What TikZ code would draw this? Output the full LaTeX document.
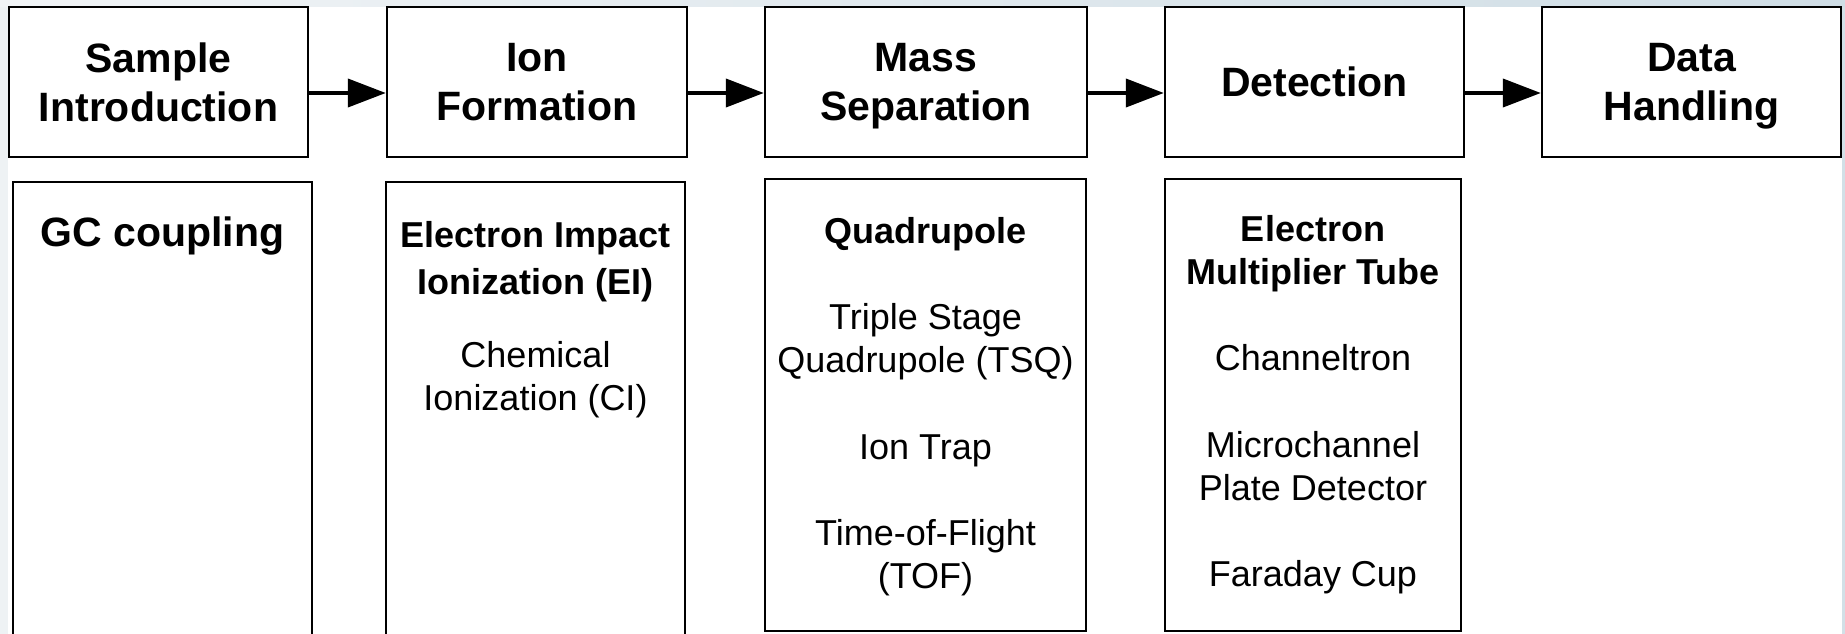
\documentclass[tikz,border=0pt]{standalone}
\usepackage{fontspec}
\setmainfont{Liberation Sans}
\usetikzlibrary{arrows.meta,positioning}

\definecolor{slidepale}{RGB}{241,244,246}
\definecolor{slideblue}{RGB}{207,221,229}
\definecolor{slideleft}{RGB}{238,242,244}
\definecolor{slideright}{RGB}{210,224,231}

\begin{document}
\begin{tikzpicture}[x=1pt,y=-1pt,
    stage/.style={draw, line width=2.4pt, minimum height=150pt, inner sep=0pt,
      text depth=0pt, align=center, font=\fontsize{41}{49.5}\selectfont\bfseries},
    detail/.style={draw, line width=2pt, inner sep=0pt},
    detailtext/.style={anchor=north, inner sep=0pt, align=center,
      font=\fontsize{36}{43.2}\selectfont},
    flow/.style={line width=4pt, -{Triangle[length=38pt,width=28pt]}}]
  \useasboundingbox (0,0) rectangle (1845,634);
  % slide background
  \fill[white] (0,0) rectangle (1845,634);
  \shade[left color=slidepale, right color=slideblue] (0,0) rectangle (1845,7);
  \fill[slideleft] (0,7) rectangle (8,634);
  \fill[slideright] (1842,7) rectangle (1845,634);

  % stages
  \node[stage, minimum width=299pt] (b1) at (158.5,82) {Sample\\Introduction};
  \node[stage, minimum width=300pt] (b2) at (537,82) {Ion\\Formation};
  \node[stage, minimum width=322pt] (b3) at (926,82) {Mass\\Separation};
  \node[stage, minimum width=299pt] (b4) at (1314.5,82) {Detection};
  \node[stage, minimum width=299pt] (b5) at (1691.5,82) {Data\\Handling};

  \foreach \a/\b in {b1/b2,b2/b3,b3/b4,b4/b5}
    \draw[flow] ([yshift=-11pt]\a.east) -- ([yshift=-11pt]\b.west);

  % techniques under each stage
  \node[detail, minimum width=299pt, minimum height=518pt] (c1) at (162.5,441) {};
  \node[detail, minimum width=299pt, minimum height=518pt] (c2) at (535.5,441) {};
  \node[detail, minimum width=321pt, minimum height=452pt] (c3) at (925.5,405) {};
  \node[detail, minimum width=296pt, minimum height=452pt] (c4) at (1313,405) {};

  \node[detailtext, below=36pt of c1.north, font=\fontsize{41}{49.2}\selectfont\bfseries] (c1t)
    {GC coupling};
  \node[detailtext, below=40pt of c2.north] (c2t)
    {\textbf{Electron Impact}\\[4pt]\textbf{Ionization (EI)}\\[30pt]
     Chemical\\Ionization (CI)};
  \node[detailtext, below=39pt of c3.north] (c3t)
    {\textbf{Quadrupole}\\[43.2pt]
     Triple Stage\\Quadrupole (TSQ)\\[43.2pt]
     Ion Trap\\[43.2pt]
     Time-of-Flight\\(TOF)};
  \node[detailtext, below=37pt of c4.north] (c4t)
    {\textbf{Electron}\\\textbf{Multiplier Tube}\\[43.2pt]
     Channeltron\\[43.2pt]
     Microchannel\\Plate Detector\\[43.2pt]
     Faraday Cup};
\end{tikzpicture}
\end{document}
